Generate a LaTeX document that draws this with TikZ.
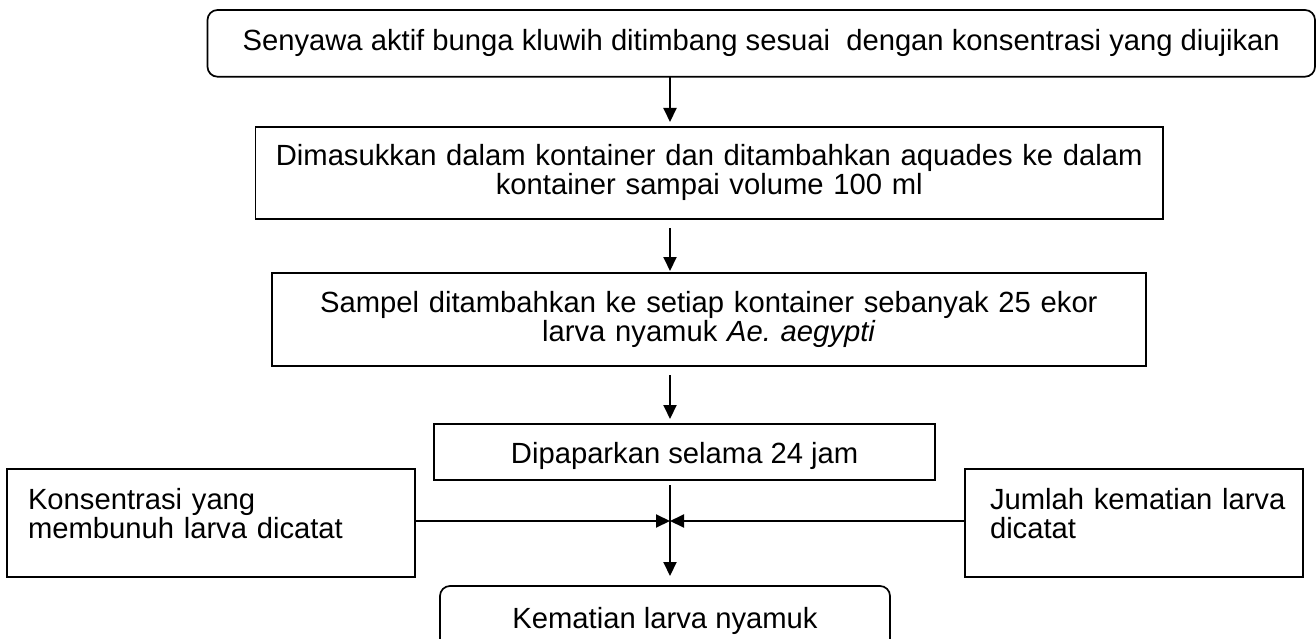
\documentclass[tikz,border=0pt]{standalone}
\usepackage{fontspec}
\setmainfont{Liberation Sans}
\usetikzlibrary{arrows.meta}
\begin{document}
\begin{tikzpicture}[x=1pt,y=-1pt,
  box/.style={draw=black, line width=1.7pt, inner sep=0pt, outer sep=0pt,
              font=\fontsize{29.2}{29.5}\selectfont},
  rbox/.style={box, rounded corners=10pt},
  arr/.style={line width=2pt, -{Triangle[length=14pt,width=13pt]}}]
\useasboundingbox (0,0) rectangle (1316,639);
\clip (0,0) rectangle (1316,639);
\coordinate (J) at (670,521);
\node[rbox, minimum width=1107.5pt, minimum height=66.7pt] (b1) at (761.25,43.35)
  {Senyawa aktif bunga kluwih ditimbang sesuai\ \ dengan konsentrasi yang diujikan};
\node[box, minimum width=907.5pt, minimum height=92pt, text width=880pt, align=center] (b2) at (709.25,172.7)
  {Dimasukkan dalam kontainer dan ditambahkan aquades ke dalam\\kontainer sampai volume 100 ml};
\node[box, minimum width=874.3pt, minimum height=92.7pt, text width=850pt, align=center] (b3) at (708.85,319.65)
  {Sampel ditambahkan ke setiap kontainer sebanyak 25 ekor\\larva nyamuk \textit{Ae.\ aegypti}};
\node[box, minimum width=500.7pt, minimum height=55.7pt, text height=28.4pt, text depth=6.1pt] (b4) at (684.65,452.15)
  {Dipaparkan selama 24 jam};
\node[box, minimum width=408pt, minimum height=108pt, text width=366pt, align=left,
      text height=20.9pt, text depth=48.9pt] (L) at (211,523)
  {Konsentrasi yang\\membunuh larva dicatat};
\node[box, minimum width=338pt, minimum height=108pt, text width=288pt, align=left,
      text height=20.9pt, text depth=48.9pt] (R) at (1134,523)
  {\mbox{Jumlah kematian larva}\\dicatat};
\node[rbox, minimum width=450pt, minimum height=69pt] (b5) at (665,620.5)
  {Kematian larva nyamuk};
\draw[arr, shorten >=4.7pt] (b1.south -| J) -- (b2.north -| J);
\draw[arr, shorten <=9.5pt, shorten >=2.3pt] (b2.south -| J) -- (b3.north -| J);
\draw[arr, shorten <=9pt, shorten >=5.3pt] (b3.south -| J) -- (b4.north -| J);
\draw[arr, shorten <=5pt, shorten >=10pt] (b4.south -| J) -- (b5.north -| J);
\draw[arr] (L.east |- J) -- (J);
\draw[arr] (R.west |- J) -- (J);
\end{tikzpicture}
\end{document}
